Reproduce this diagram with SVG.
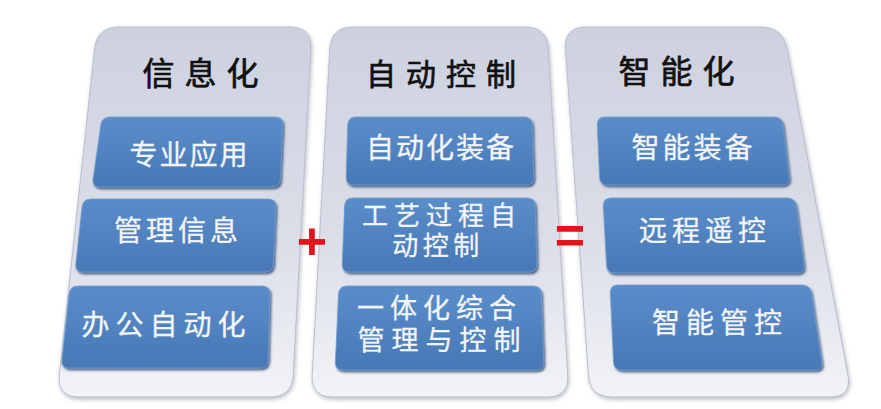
<svg xmlns="http://www.w3.org/2000/svg" width="881" height="409" viewBox="0 0 881 409">
<defs>
<linearGradient id="pg" x1="0" y1="0" x2="0" y2="1">
<stop offset="0" stop-color="#cdd1df"/>
<stop offset="0.6" stop-color="#dcdfe9"/>
<stop offset="1" stop-color="#f2f3f7"/>
</linearGradient>
<linearGradient id="bg" x1="0" y1="0" x2="0" y2="1">
<stop offset="0" stop-color="#5a8dca"/>
<stop offset="1" stop-color="#4778b5"/>
</linearGradient>
<filter id="ps" x="-10%" y="-10%" width="120%" height="120%">
<feDropShadow dx="1" dy="2" stdDeviation="2" flood-color="#8d93a3" flood-opacity="0.6"/>
</filter>
<filter id="bs" x="-10%" y="-10%" width="120%" height="130%">
<feDropShadow dx="1.5" dy="2" stdDeviation="1" flood-color="#1f3b63" flood-opacity="0.75"/>
</filter>
</defs>
<style>
.panel{fill:url(#pg);stroke:#b9bfce;stroke-width:1;filter:url(#ps)}
.box{fill:url(#bg);stroke:#6f9ad0;stroke-width:0.8;filter:url(#bs)}
.title{font-family:"Noto Sans CJK SC","Noto Sans",sans-serif;font-size:32px;fill:#111;stroke:#111;stroke-width:0.7;text-anchor:middle;letter-spacing:10px}
.bt{font-family:"Noto Sans CJK SC","Noto Sans",sans-serif;font-size:28px;fill:#f2f5fa;stroke:#f2f5fa;stroke-width:0.3;text-anchor:middle}
.op{font-family:"Liberation Sans",Arial,sans-serif;font-size:52px;font-weight:bold;fill:#e0141a;text-anchor:middle}
</style>
<rect width="881" height="409" fill="#ffffff"/>

<g id="panel-xinxihua">
<path class="panel" d="M119,27 L290,27 Q312,27 310.8,49 L293.2,375 Q292,397 270,397 L79,397 Q57,397 59.4,375 L94.6,49 Q97,27 119,27 Z"/>
<text class="title" x="205.5" y="85">信息化</text>
</g>
<g id="panel-zidongkongzhi">
<path class="panel" d="M353,27 L525,27 Q547,27 548.3,49 L567.7,375 Q569,397 547,397 L333,397 Q311,397 312.2,375 L329.8,49 Q331,27 353,27 Z"/>
<text class="title" x="446" y="85" style="font-size:30px">自动控制</text>
</g>
<g id="panel-zhinenghua">
<path class="panel" d="M586,27 L761,27 Q783,27 787.1,49 L847.9,375 Q852,397 830,397 L612,397 Q590,397 588.5,375 L565.5,49 Q564,27 586,27 Z"/>
<text class="title" x="681.5" y="83">智能化</text>
</g>

<g id="box-zhuanye">
<path class="box" d="M110,117 L275,117 Q283,117 282.7,125 L280.3,179 Q280,187 272,187 L100,187 Q92,187 93.1,179 L100.9,125 Q102,117 110,117 Z"/>
<text class="bt" x="189.5" y="165" style="letter-spacing:2px">专业应用</text>
</g>
<g id="box-guanli">
<path class="box" d="M91,199 L268,199 Q276,199 275.7,207 L273.3,264 Q273,272 265,272 L83,272 Q75,272 75.9,264 L82.1,207 Q83,199 91,199 Z"/>
<text class="bt" x="178" y="241" style="letter-spacing:4px">管理信息</text>
</g>
<g id="box-bangong">
<path class="box" d="M78,286 L262,286 Q270,286 269.8,294 L268.2,360 Q268,368 260,368 L69,368 Q61,368 61.9,360 L69.1,294 Q70,286 78,286 Z"/>
<text class="bt" x="166.5" y="335" style="letter-spacing:6px">办公自动化</text>
</g>

<g id="box-zhuangbei">
<path class="box" d="M356,117 L524,117 Q532,117 532.2,125 L533.8,177 Q534,185 526,185 L354,185 Q346,185 346.2,177 L347.8,125 Q348,117 356,117 Z"/>
<text class="bt" x="441" y="158" style="letter-spacing:2px">自动化装备</text>
</g>
<g id="box-gongyi">
<path class="box" d="M353,198 L527,198 Q535,198 535.2,206 L536.8,264 Q537,272 529,272 L350,272 Q342,272 342.3,264 L344.7,206 Q345,198 353,198 Z"/>
<text class="bt" style="font-size:26px"><tspan x="442" y="225" style="letter-spacing:6px">工艺过程自</tspan><tspan x="438" y="255" style="letter-spacing:4.5px">动控制</tspan></text>
</g>
<g id="box-yitihua">
<path class="box" d="M347,286 L533,286 Q541,286 541.3,294 L543.7,362 Q544,370 536,370 L343,370 Q335,370 335.4,362 L338.6,294 Q339,286 347,286 Z"/>
<text class="bt" style="font-size:27px"><tspan x="439.5" y="318" style="letter-spacing:6px">一体化综合</tspan><tspan x="442.5" y="350" style="letter-spacing:7px">管理与控制</tspan></text>
</g>

<g id="box-zhinengzhuangbei">
<path class="box" d="M605,117 L774,117 Q782,117 782.9,125 L789.1,177 Q790,185 782,185 L608,185 Q600,185 599.6,177 L597.4,125 Q597,117 605,117 Z"/>
<text class="bt" x="693.5" y="158" style="letter-spacing:3px">智能装备</text>
</g>
<g id="box-yaokong">
<path class="box" d="M611,198 L787,198 Q795,198 796.1,206 L803.9,265 Q805,273 797,273 L615,273 Q607,273 606.6,265 L603.4,206 Q603,198 611,198 Z"/>
<text class="bt" x="705" y="241" style="letter-spacing:5px">远程遥控</text>
</g>
<g id="box-guankong">
<path class="box" d="M618,285 L802,285 Q810,285 811.2,293 L821.8,362 Q823,370 815,370 L622,370 Q614,370 613.6,362 L610.4,293 Q610,285 618,285 Z"/>
<text class="bt" x="720" y="333" style="letter-spacing:6px">智能管控</text>
</g>

<g id="operators">
<text class="op" x="312" y="259">+</text>
<text class="op" x="570" y="253">=</text>
</g>
</svg>
